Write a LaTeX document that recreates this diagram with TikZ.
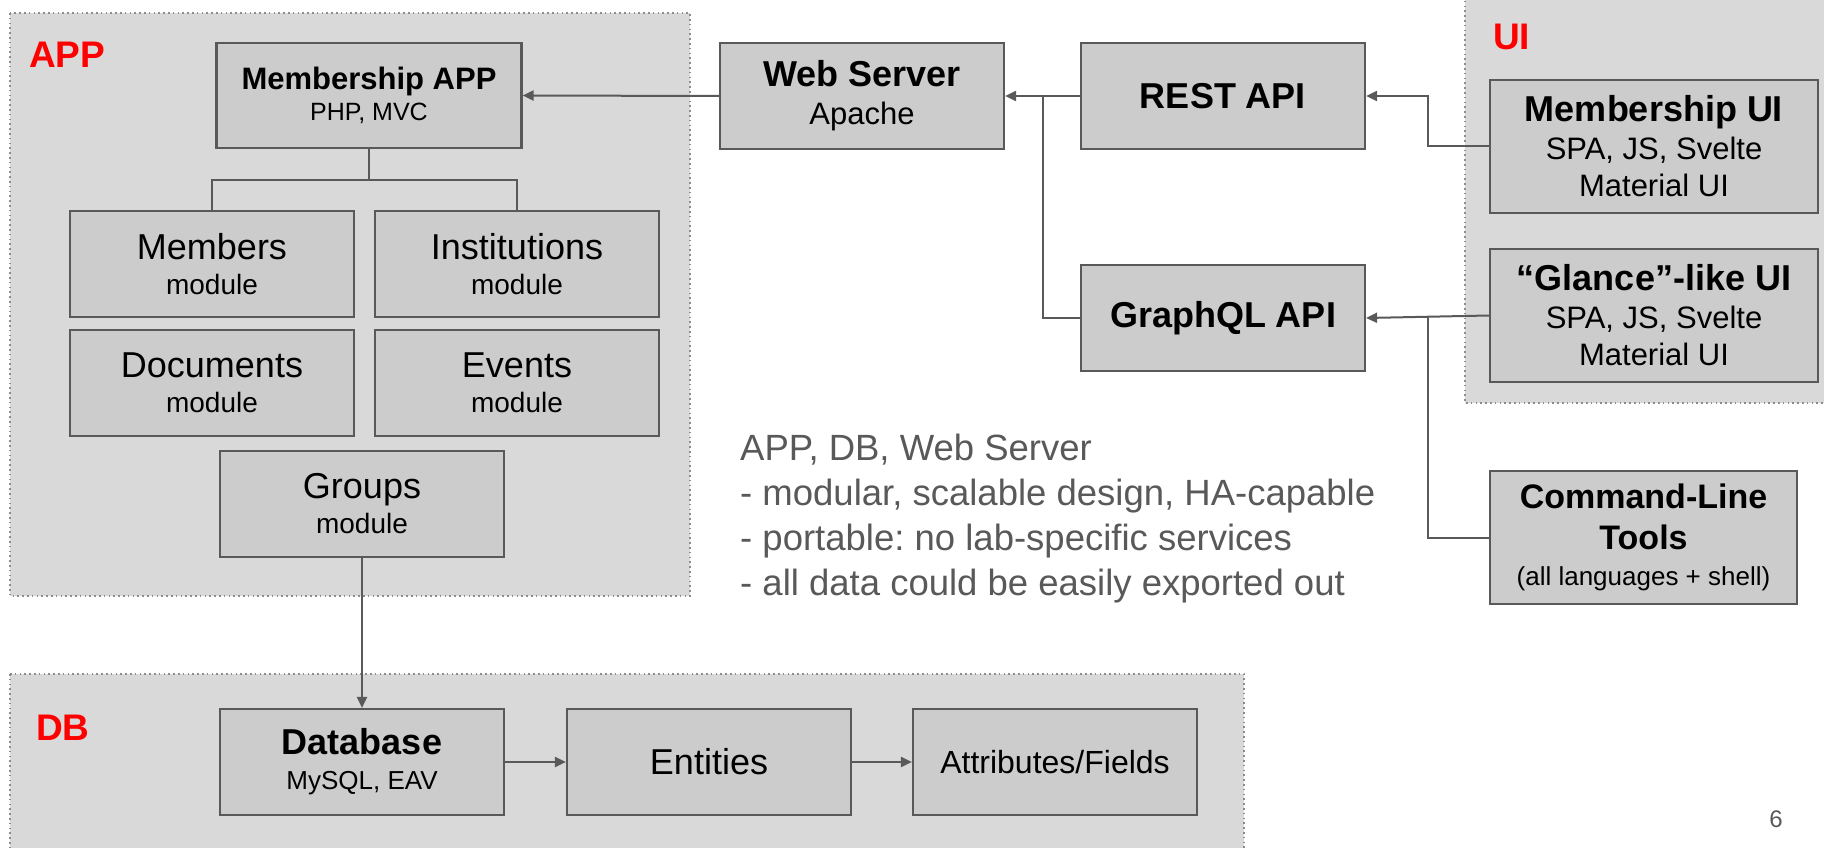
\documentclass[tikz,border=0pt]{standalone}
\usepackage{fontspec}
\setmainfont{Liberation Sans}
\usetikzlibrary{arrows.meta}
\definecolor{contfill}{HTML}{D9D9D9}
\definecolor{boxfill}{HTML}{CCCCCC}
\definecolor{edgec}{HTML}{595959}
\definecolor{dotc}{HTML}{8C8C8C}
\definecolor{notec}{HTML}{595959}
\definecolor{labred}{HTML}{FF0000}
\newcommand{\fsz}[2]{\fontsize{#1}{#2}\selectfont}
\frenchspacing
\begin{document}
\begin{tikzpicture}[x=1pt,y=-1pt,
  cont/.style={fill=contfill, draw=dotc, line width=1.6pt, dash pattern=on 1.6pt off 3.2pt},
  box/.style={draw=edgec, fill=boxfill, line width=2.2pt, inner sep=0pt, align=center, text=black,
              minimum width=284pt, minimum height=106pt},
  modbox/.style={box, font=\fsz{28}{35}},
  uibox/.style={box, minimum width=328pt, minimum height=133pt, font=\fsz{31}{37.5}},
  grplabel/.style={text=labred, font=\fsz{37}{37}\bfseries, inner sep=0pt, anchor=base west},
  ln/.style={draw=edgec, line width=2pt},
  arr/.style={ln, -{Triangle[length=11pt,width=10pt]}},
  note/.style={text=notec, font=\fsz{36.5}{45}, align=left, inner sep=0pt, anchor=west}
]
\useasboundingbox (0,0) rectangle (1824,848);
\fill[white] (0,0) rectangle (1824,848);

% containers
\draw[cont] (10,13) rectangle (690,596);
\draw[cont] (10,674) rectangle (1244,852);
\draw[cont] (1465,-4) rectangle (1830,403);

\node[grplabel] (applbl) at (29,68) {APP};
\node[grplabel] (dblbl) at (36,740) {DB};
\node[grplabel] (uilbl) at (1493,50) {UI};

% APP
\node[box, minimum width=305pt, minimum height=105pt, font=\fsz{25}{31}] (memapp) at (369,95.5)
  {{\fsz{31}{31}\bfseries Membership APP}\\PHP, MVC};
\node[modbox] (members) at (212,264) {{\fsz{36}{36}Members}\\module};
\node[modbox] (inst) at (517,264) {{\fsz{36}{36}Institutions}\\module};
\node[modbox] (docs) at (212,383) {{\fsz{36}{36}Documents}\\module};
\node[modbox] (events) at (517,383) {{\fsz{36}{36}Events}\\module};
\node[modbox] (groups) at (362,504) {{\fsz{36}{36}Groups}\\module};

% DB
\node[box, font=\fsz{26}{35}] (database) at (362,762) {{\fsz{36}{36}\bfseries Database}\\MySQL, EAV};
\node[box, font=\fsz{36}{40}] (entities) at (709,762) {Entities};
\node[box, font=\fsz{32}{36}] (attrs) at (1055,762) {Attributes/Fields};

% middle
\node[box, font=\fsz{31}{38}] (web) at (862,96) {{\fsz{36}{36}\bfseries Web Server}\\Apache};
\node[box, font=\fsz{36}{40}\bfseries] (rest) at (1223,96) {REST API};
\node[box, font=\fsz{36}{40}\bfseries] (gql) at (1223,318) {GraphQL API};

% UI
\node[uibox] (memui) at (1654,146.5) {{\fsz{36}{36}\bfseries Membership UI}\\SPA, JS, Svelte\\Material UI};
\node[uibox] (glance) at (1654,315.5) {{\fsz{36}{36}\bfseries “Glance”-like UI}\\SPA, JS, Svelte\\Material UI};
\node[box, minimum width=307pt, minimum height=133pt, font=\fsz{26}{36}] (clt) at (1643.5,537.5)
  {{\fsz{34}{34}\bfseries Command-Line}\\[5pt]{\fsz{34}{34}\bfseries Tools}\\(all languages + shell)};

% note
\node[note] (notes) at (740,519) {APP, DB, Web Server\\- modular, scalable design, HA-capable\\- portable: no lab-specific services\\- all data could be easily exported out};
\node[text=notec, font=\fsz{24}{24}, inner sep=0pt] (pagenum) at (1776,819) {6};

% connectors
\coordinate (br) at (369,180);
\coordinate (jn) at (1042.5,96);
\coordinate (ux) at (1428,0);

\draw[arr] (web.west) -- (memapp.east);
\draw[ln] (memapp.south) -- (br);
\draw[ln] (members.north) |- (br) -| (inst.north);
\draw[arr] (groups.south) -- (database.north);
\draw[arr] (database.east) -- (entities.west);
\draw[arr] (entities.east) -- (attrs.west);
\draw[arr] (rest.west) -- (web.east);
\draw[ln] (gql.west) -| (jn);
\draw[arr] (memui.west) -- (memui.west -| ux) |- (rest.east);
\draw[arr] (glance.west) -- (gql.east);
\draw[ln] (clt.west) -- (clt.west -| ux) -- (ux |- glance.west);
\end{tikzpicture}
\end{document}
